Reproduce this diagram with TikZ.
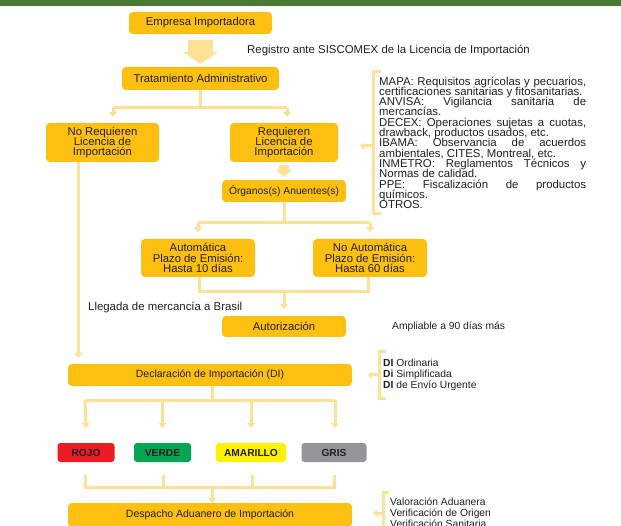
\documentclass[tikz,border=0pt]{standalone}
\usepackage{fontspec}
\setmainfont{Liberation Sans}
\usetikzlibrary{arrows.meta,calc}
\definecolor{boxy}{HTML}{FDC010}
\definecolor{liney}{HTML}{FFE196}
\definecolor{topgreen}{HTML}{4A7A32}
\definecolor{txt}{HTML}{231F20}
\definecolor{rojoc}{HTML}{ED1C24}
\definecolor{verdec}{HTML}{00A651}
\definecolor{amac}{HTML}{FFF200}
\definecolor{grisc}{HTML}{939598}
\newcommand{\tightfont}[2]{\fontsize{#1}{#2}\selectfont\lineskiplimit=-20pt\relax}
\begin{document}
\begin{tikzpicture}[x=1pt,y=-1pt,
  box/.style={fill=boxy, rounded corners=4pt, text=txt, inner sep=0pt, align=center,
    font=\tightfont{11.3}{10.4}},
  cbox/.style={rounded corners=3pt, text=txt, inner sep=0pt, minimum height=19pt,
    font=\bfseries\fontsize{10.2}{12}\selectfont},
  conn/.style={draw=liney, line width=3pt},
  arr/.style={conn, -{Triangle[width=8pt,length=5pt]}},
  sarr/.style={conn, -{Triangle[width=7pt,length=4pt]}},
  plain/.style={text=txt, inner sep=0pt},
  blockarrow/.style={fill=liney, draw=none}]
\useasboundingbox (0,0) rectangle (621,526);
\fill[white] (0,0) rectangle (621,526);
\fill[topgreen] (0,0) rectangle (621,6);

% boxes
\node[box, minimum width=143pt, minimum height=22pt] (emp) at (200.5,23) {Empresa Importadora};
\node[box, minimum width=157pt, minimum height=23pt] (trat) at (200.5,78.5) {Tratamiento Administrativo};
\node[box, minimum width=113pt, minimum height=39pt] (noreq) at (102.5,142.5) {No Requieren\\Licencia de\\Importación};
\node[box, minimum width=108pt, minimum height=39pt] (req) at (284,142.5) {Requieren\\Licencia de\\Importación};
\node[box, minimum width=124pt, minimum height=22pt, font=\fontsize{10.3}{12}\selectfont] (org) at (284,191) {Órganos(s) Anuentes(s)};
\node[box, minimum width=114pt, minimum height=38pt] (auto) at (198,258) {Automática\\Plazo de Emisión:\\Hasta 10 días};
\node[box, minimum width=114pt, minimum height=38pt] (noauto) at (370,258) {No Automática\\Plazo de Emisión:\\Hasta 60 días};
\node[box, minimum width=124pt, minimum height=21pt] (autz) at (284,326.5) {Autorización};
\node[box, minimum width=284pt, minimum height=22pt, font=\fontsize{10.5}{12}\selectfont] (decl) at (210,375) {Declaración de Importación (DI)};
\node[cbox, fill=rojoc, minimum width=57pt] (rojo) at (86,452.5) {ROJO};
\node[cbox, fill=verdec, minimum width=57pt] (verde) at (162.5,452.5) {VERDE};
\node[cbox, fill=amac, minimum width=70pt] (ama) at (251,452.5) {AMARILLO};
\node[cbox, fill=grisc, minimum width=65pt] (gris) at (334,452.5) {GRIS};
\node[box, minimum width=284pt, minimum height=24pt, font=\fontsize{10.5}{12}\selectfont] (desp) at (210,515) {Despacho Aduanero de Importación};

% free texts
\node[plain, anchor=west, font=\fontsize{11.4}{12}\selectfont] (reg) at (247,50.5) {Registro ante SISCOMEX de la Licencia de Importación};
\node[plain, anchor=west, font=\fontsize{11.4}{12}\selectfont] (lleg) at (88,307.5) {Llegada de mercancía a Brasil};
\node[plain, anchor=west, font=\fontsize{10.3}{12}\selectfont] (ampl) at (392,327) {Ampliable a 90 días más};

\node[plain, anchor=north west, align=left, font=\tightfont{11.4}{10.3}] (mapa) at (379,76.5) {%
\makebox[207pt][s]{MAPA: Requisitos agrícolas y pecuarios,}\\
\makebox[207pt][l]{certificaciones sanitarias y fitosanitarias.}\\
\makebox[207pt][s]{ANVISA: Vigilancia sanitaria de}\\
\makebox[207pt][l]{mercancías.}\\
\makebox[207pt][s]{DECEX: Operaciones sujetas a cuotas,}\\
\makebox[207pt][l]{drawback, productos usados, etc.}\\
\makebox[207pt][s]{IBAMA: Observancia de acuerdos}\\
\makebox[207pt][l]{ambientales, CITES, Montreal, etc.}\\
\makebox[207pt][s]{INMETRO: Reglamentos Técnicos y}\\
\makebox[207pt][l]{Normas de calidad.}\\
\makebox[207pt][s]{PPE: Fiscalización de productos}\\
\makebox[207pt][l]{químicos.}\\
\makebox[207pt][l]{OTROS.}};

\node[plain, anchor=north west, align=left, font=\tightfont{10.3}{11}] (dil) at (383,359) {%
\textbf{DI} Ordinaria\\ \textbf{Di} Simplificada\\ \textbf{DI} de Envío Urgente};
\node[plain, anchor=north west, align=left, font=\tightfont{10.3}{11}] (vl) at (390,498) {%
Valoración Aduanera\\ Verificación de Origen\\ Verificación Sanitaria};

% block arrows
\fill[blockarrow] (188,40) -- (213,40) -- (213,52) -- (218,52) -- (200.5,64) -- (183,52) -- (188,52) -- cycle;
\fill[blockarrow] (279,165) -- (289,165) -- (289,170) -- (292,170) -- (284,177) -- (276,170) -- (279,170) -- cycle;

% junction coordinates
\coordinate (j1) at (200.5,108);
\coordinate (j1l) at (113,108);
\coordinate (j1r) at (287,108);
\coordinate (j2) at (284,223);
\coordinate (j2l) at (198,223);
\coordinate (j2r) at (370,223);
\coordinate (j3l) at (199,292);
\coordinate (j3r) at (368,292);
\coordinate (j3) at (284,292);
\coordinate (j4) at (212,400);
\coordinate (j4a) at (85,400);
\coordinate (j4d) at (335,400);
\coordinate (j5a) at (85,487);
\coordinate (j5d) at (334,487);
\coordinate (j5) at (212,487);

% connectors
\draw[conn] (trat.south) -- (j1);
\draw[conn] (j1l) -- (j1r);
\draw[arr] (j1l) -- (j1l |- 0,117);
\draw[arr] (j1r) -- (j1r |- 0,117);

\draw[arr] (noreq.south -| 78.5,0) -- (78.5,358);

\draw[conn] (org.south) -- (j2);
\draw[conn] (j2l) -- (j2r);
\draw[arr] (j2l) -- (j2l |- 0,232);
\draw[arr] (j2r) -- (j2r |- 0,232);

\draw[conn] (auto.south -| j3l) -- (j3l) -- (j3r) -- (noauto.south -| j3r);
\draw[arr] (j3) -- (autz.north |- 0,309);

\draw[conn] (decl.south -| j4) -- (j4);
\draw[conn] (j4a) -- (j4d);
\draw[arr] (j4a) -- (rojo.north |- 0,428);
\draw[arr] (162.5,400) -- (verde.north |- 0,428);
\draw[arr] (251,400) -- (ama.north |- 0,428);
\draw[arr] (j4d) -- (j4d |- 0,428);

\draw[conn] (85,475) -- (j5a) -- (j5d) -- (334,475);
\draw[conn] (163,475) -- (163,487);
\draw[conn] (252,475) -- (252,487);
\draw[arr] (j5) -- (desp.north -| j5);

% brackets
\draw[conn] (381,72) -- (373,72) -- (373,214) -- (381,214);
\draw[sarr] (373,146) -- (360,146);
\draw[conn] (386,352) -- (379.5,352) -- (379.5,398) -- (386,398);
\draw[sarr] (379.5,375) -- (368,375);
\draw[conn] (389,492) -- (383.5,492) -- (383.5,530);
\draw[sarr] (383.5,513) -- (373,513);
\end{tikzpicture}
\end{document}
